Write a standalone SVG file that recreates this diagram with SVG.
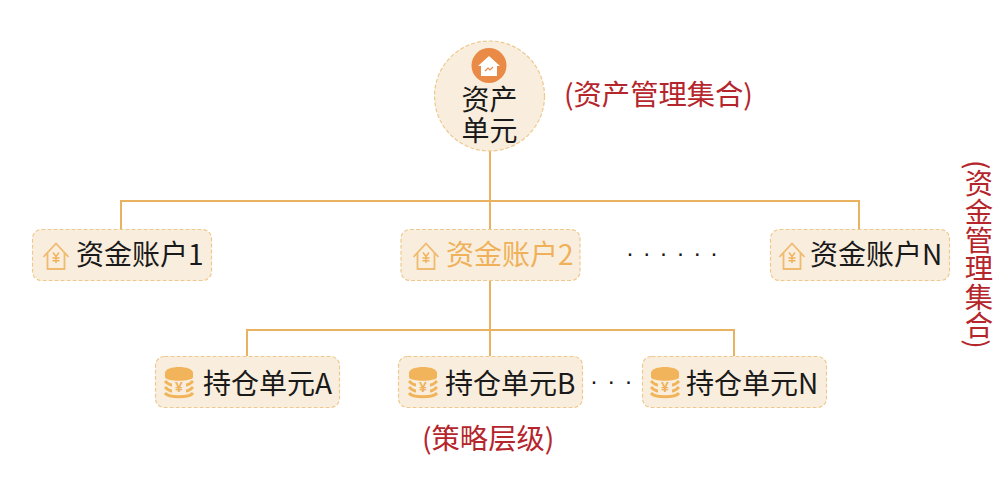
<svg xmlns="http://www.w3.org/2000/svg" width="1008" height="493" viewBox="0 0 1008 493">
<style>
text{font-family:"Noto Sans CJK SC","Noto Sans",sans-serif}
.box{fill:#f9eedd;stroke:#eec98f;stroke-width:1.2;stroke-dasharray:4 2}
.lbl{font-size:28px;fill:#1a1a1a}
.hi{font-size:28px;fill:#efb15a}
.red{font-size:28.300px;fill:#b5262c}
.dots{font-size:24px;fill:#1a1a1a;font-family:"Liberation Sans",sans-serif}
.ln{fill:none;stroke:#e8b261;stroke-width:2}
.ic{fill:none;stroke:#efbb70;stroke-width:1.800}
.yen{font-size:14px;font-family:"Liberation Sans",sans-serif;fill:#efb15a;font-weight:bold;text-anchor:middle}
</style>
<defs>
<g id="house">
<path class="ic" d="M-12.500 1 L0 -12.500 L12.500 1 M-8.500 -3 V13 H8.500 V-3"/>
<path d="M-3 -3.500 L0 0.500 L3 -3.500 M0 0.500 V7 M-3.500 2 H3.500 M-3.500 4.800 H3.500" fill="none" stroke="#efb15a" stroke-width="1.400"/>
</g>
<g id="coins">
<path d="M-14 -9 C-14 -17 14 -17 14 -9 L14 -5 C14 0 -14 0 -14 -5 Z" fill="#f1b45a"/>
<path d="M-14 -1 C-11 2 -9 3 -7 3 M14 -1 C11 2 9 3 7 3 M-14 5 C-11 8 -9 9 -7 9 M14 5 C11 8 9 9 7 9 M-14 11 C-10 16 10 16 14 11" fill="none" stroke="#f1b45a" stroke-width="3"/>
<text class="yen" x="0" y="10">¥</text>
</g>
</defs>
<g id="connectors">
<path class="ln" d="M490 151 V229 M121 229 V201 H859 V229 M490 281 V356 M247 356 V330 H734 V356"/>
</g>
<g id="asset-unit">
<circle cx="489.500" cy="96" r="55" fill="#f9eedd" stroke="#eec98f" stroke-width="1.200" stroke-dasharray="4 2"/>
<circle cx="489" cy="65.500" r="17.500" fill="#ea8a47"/>
<path d="M478 66 L489 56 L500 66 H497 V76 H481 V66 Z" fill="#fff"/>
<path d="M485 71 L488 68 L490 70 L493 67" fill="none" stroke="#ea8a47" stroke-width="1.200"/>
<text class="lbl" text-anchor="middle"><tspan x="489.500" y="110">资产</tspan><tspan x="489.500" y="141">单元</tspan></text>
</g>
<g id="label-asset"><text class="red" x="564" y="105">(资产管理集合)</text></g>
<g id="account-1">
<rect class="box" x="32.500" y="229.500" width="179" height="51" rx="9"/>
<use href="#house" x="56" y="256"/>
<text class="lbl" x="76" y="265">资金账户1</text>
</g>
<g id="account-2">
<rect class="box" x="401" y="229.500" width="179" height="51" rx="9"/>
<use href="#house" x="426" y="256"/>
<text class="hi" x="446" y="265">资金账户2</text>
</g>
<g id="dots-accounts"><text class="dots" x="626" y="261" letter-spacing="8.800">······</text></g>
<g id="account-n">
<rect class="box" x="770.500" y="229.500" width="179" height="51" rx="9"/>
<use href="#house" x="792" y="256"/>
<text class="lbl" x="810" y="265">资金账户N</text>
</g>
<g id="unit-a">
<rect class="box" x="155.500" y="356.500" width="184" height="51" rx="9"/>
<use href="#coins" x="179" y="382"/>
<text class="lbl" x="203" y="394">持仓单元A</text>
</g>
<g id="unit-b">
<rect class="box" x="398.500" y="356.500" width="184" height="51" rx="9"/>
<use href="#coins" x="423" y="382"/>
<text class="lbl" x="445" y="394">持仓单元B</text>
</g>
<g id="dots-units"><text class="dots" x="590" y="389" letter-spacing="9.300">···</text></g>
<g id="unit-n">
<rect class="box" x="642.500" y="356.500" width="184" height="51" rx="9"/>
<use href="#coins" x="665" y="382"/>
<text class="lbl" x="686" y="394">持仓单元N</text>
</g>
<g id="label-strategy"><text class="red" x="422" y="449">(策略层级)</text></g>
<g id="label-fund"><text class="red" x="979" y="160" style="writing-mode:vertical-rl">(资金管理集合)</text></g>
</svg>
